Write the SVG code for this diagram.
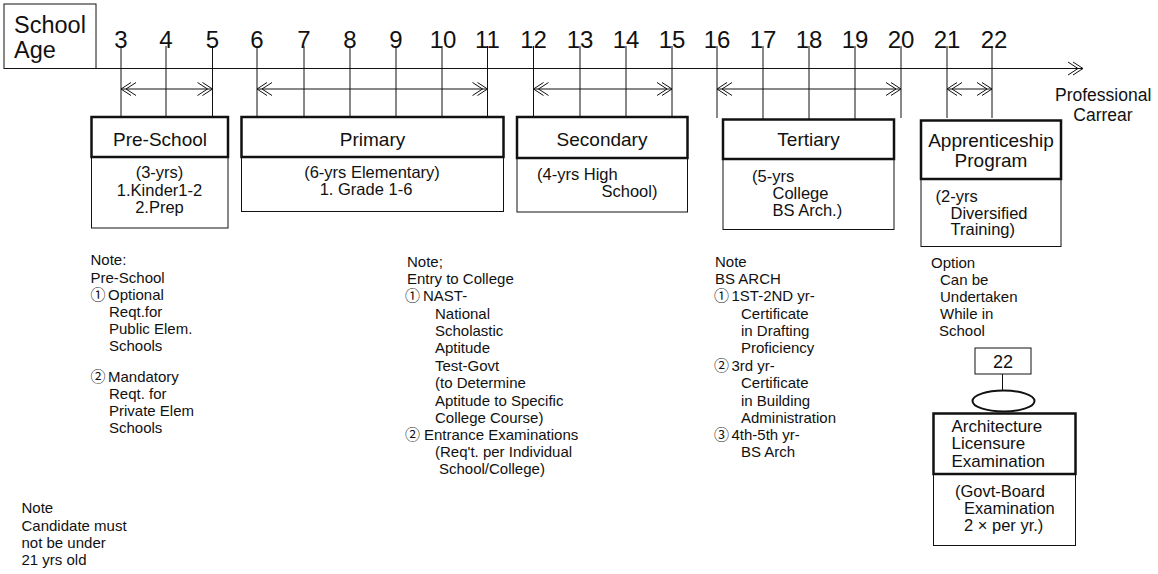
<svg xmlns="http://www.w3.org/2000/svg" width="1158" height="574" viewBox="0 0 1158 574">
<style>
.t{font-family:"Liberation Sans","Noto Sans CJK JP",sans-serif;fill:#111}
.num{font-size:24px;text-anchor:middle}
.hd{font-size:19px;text-anchor:middle}
.bx{font-size:16.5px}
.bxc{font-size:16.5px;text-anchor:middle}
.nt{font-size:15px}
.big{font-size:23.5px}
.thin{fill:none;stroke:#111;stroke-width:1}
.thick{fill:#fff;stroke:#111;stroke-width:2.5}
.ln{stroke:#111;stroke-width:1;fill:none}
.arr{stroke:#111;stroke-width:1;fill:none;marker-start:url(#dbl);marker-end:url(#dbl)}
</style>
<defs>
<marker id="dbl" viewBox="-16 -8 17 16" refX="0" refY="0" markerWidth="17" markerHeight="16" markerUnits="userSpaceOnUse" orient="auto-start-reverse">
<path d="M-10,-6.5 L0,0 L-10,6.5 M-15,-6.5 L-5,0 L-15,6.5" fill="none" stroke="#111" stroke-width="1"/>
</marker>
</defs>
<rect width="1158" height="574" fill="#fff"/>

<g id="connectors">
  <line class="ln" x1="96" y1="68.5" x2="1083" y2="68.5" style="marker-end:url(#dbl)"/>
  <line class="ln" x1="121" y1="46" x2="121" y2="117"/>
  <line class="ln" x1="166" y1="46" x2="166" y2="117"/>
  <line class="ln" x1="212.5" y1="46" x2="212.5" y2="117"/>
  <line class="ln" x1="257" y1="46" x2="257" y2="116"/>
  <line class="ln" x1="304" y1="46" x2="304" y2="117"/>
  <line class="ln" x1="350" y1="46" x2="350" y2="117"/>
  <line class="ln" x1="396" y1="46" x2="396" y2="117"/>
  <line class="ln" x1="442" y1="46" x2="442" y2="117"/>
  <line class="ln" x1="487.5" y1="46" x2="487.5" y2="117"/>
  <line class="ln" x1="533.5" y1="46" x2="533.5" y2="117"/>
  <line class="ln" x1="580" y1="46" x2="580" y2="117"/>
  <line class="ln" x1="626" y1="46" x2="626" y2="117"/>
  <line class="ln" x1="672" y1="46" x2="672" y2="117"/>
  <line class="ln" x1="717" y1="46" x2="717" y2="118"/>
  <line class="ln" x1="763" y1="46" x2="763" y2="119.5"/>
  <line class="ln" x1="809" y1="46" x2="809" y2="119.5"/>
  <line class="ln" x1="855" y1="46" x2="855" y2="119.5"/>
  <line class="ln" x1="901" y1="46" x2="901" y2="118"/>
  <line class="ln" x1="947" y1="46" x2="947" y2="118"/>
  <line class="ln" x1="992" y1="46" x2="992" y2="118"/>
  <line class="arr" x1="121" y1="89" x2="212.5" y2="89"/>
  <line class="arr" x1="257" y1="89" x2="487.5" y2="89"/>
  <line class="arr" x1="533.5" y1="89" x2="672" y2="89"/>
  <line class="arr" x1="717" y1="89" x2="901" y2="89"/>
  <line class="arr" x1="947" y1="89" x2="992" y2="89"/>
  <line class="ln" x1="1002.5" y1="374" x2="1002.5" y2="390"/>
</g>

<g id="school-age">
  <rect class="thin" x="4" y="4" width="92" height="64.5"/>
  <text class="t big" x="14" y="33">School</text>
  <text class="t big" x="14" y="58">Age</text>
</g>

<g id="ages">
  <text class="t num" x="121" y="48">3</text>
  <text class="t num" x="166" y="48">4</text>
  <text class="t num" x="212.5" y="48">5</text>
  <text class="t num" x="257" y="48">6</text>
  <text class="t num" x="304" y="48">7</text>
  <text class="t num" x="350" y="48">8</text>
  <text class="t num" x="396" y="48">9</text>
  <text class="t num" x="443" y="48">10</text>
  <text class="t num" x="487.5" y="48">11</text>
  <text class="t num" x="533.5" y="48">12</text>
  <text class="t num" x="580" y="48">13</text>
  <text class="t num" x="626" y="48">14</text>
  <text class="t num" x="672" y="48">15</text>
  <text class="t num" x="717" y="48">16</text>
  <text class="t num" x="763" y="48">17</text>
  <text class="t num" x="809" y="48">18</text>
  <text class="t num" x="855" y="48">19</text>
  <text class="t num" x="901" y="48">20</text>
  <text class="t num" x="947" y="48">21</text>
  <text class="t num" x="994" y="48">22</text>
</g>

<g id="professional-career">
  <text class="t" x="1055" y="100.5" style="font-size:17.5px">Professional</text>
  <text class="t" x="1103" y="121" style="font-size:17.5px;text-anchor:middle">Carrear</text>
</g>

<g id="pre-school">
  <rect class="thin" x="91.5" y="157" width="136.5" height="71"/>
  <rect class="thick" x="91.5" y="117" width="136.5" height="40"/>
  <text class="t hd" x="160" y="145.5">Pre-School</text>
  <text class="t bxc" x="159.5" y="178">(3-yrs)</text>
  <text class="t bxc" x="159.5" y="195.5">1.Kinder1-2</text>
  <text class="t bxc" x="159.5" y="213">2.Prep</text>
</g>

<g id="primary">
  <rect class="thin" x="241.5" y="157" width="262" height="54.5"/>
  <rect class="thick" x="241.5" y="117" width="262" height="40"/>
  <text class="t hd" x="372.5" y="145.5">Primary</text>
  <text class="t bxc" x="372" y="178">(6-yrs Elementary)</text>
  <text class="t bxc" x="366" y="195">1. Grade 1-6</text>
</g>

<g id="secondary">
  <rect class="thin" x="517" y="158" width="170.5" height="54"/>
  <rect class="thick" x="517" y="117" width="170.5" height="41"/>
  <text class="t hd" x="602" y="145.5">Secondary</text>
  <text class="t bx" x="537" y="180">(4-yrs High</text>
  <text class="t bx" x="601.5" y="197">School)</text>
</g>

<g id="tertiary">
  <rect class="thin" x="723" y="159" width="171" height="70.5"/>
  <rect class="thick" x="723" y="119.5" width="171" height="39.5"/>
  <text class="t hd" x="808.5" y="146">Tertiary</text>
  <text class="t bx" x="752" y="181.5">(5-yrs</text>
  <text class="t bx" x="772.5" y="198.5">College</text>
  <text class="t bx" x="772.5" y="215.5">BS Arch.)</text>
</g>

<g id="apprenticeship">
  <rect class="thin" x="921" y="179" width="140" height="67.5"/>
  <rect class="thick" x="921" y="120.5" width="140" height="58.5"/>
  <text class="t hd" x="991" y="147">Apprenticeship</text>
  <text class="t hd" x="991" y="167">Program</text>
  <text class="t bx" x="935.5" y="201.5">(2-yrs</text>
  <text class="t bx" x="950.5" y="218.5">Diversified</text>
  <text class="t bx" x="950.5" y="235">Training)</text>
</g>

<g id="note-pre-school" class="t nt">
  <text x="90.5" y="265">Note:</text>
  <text x="90.5" y="282.5">Pre-School</text>
  <text y="300"><tspan x="90.5">①</tspan><tspan x="108">Optional</tspan></text>
  <text x="109" y="317">Reqt.for</text>
  <text x="109" y="334">Public Elem.</text>
  <text x="109" y="351">Schools</text>
  <text y="382"><tspan x="90.5">②</tspan><tspan x="108">Mandatory</tspan></text>
  <text x="109" y="399">Reqt. for</text>
  <text x="109" y="416">Private Elem</text>
  <text x="109" y="433">Schools</text>
</g>

<g id="note-college-entry" class="t nt">
  <text x="407" y="266.5">Note;</text>
  <text x="407" y="283.5">Entry to College</text>
  <text y="301"><tspan x="405">①</tspan><tspan x="423">NAST-</tspan></text>
  <text x="435" y="318.5">National</text>
  <text x="435" y="336">Scholastic</text>
  <text x="435" y="353">Aptitude</text>
  <text x="435" y="370.5">Test-Govt</text>
  <text x="435" y="388">(to Determine</text>
  <text x="435" y="405.5">Aptitude to Specific</text>
  <text x="435" y="422.5">College Course)</text>
  <text y="440"><tspan x="405">②</tspan><tspan x="424">Entrance Examinations</tspan></text>
  <text x="435" y="456.5">(Req't. per Individual</text>
  <text x="439" y="473.5">School/College)</text>
</g>

<g id="note-bs-arch" class="t nt">
  <text x="715" y="266.5">Note</text>
  <text x="715" y="283.5">BS ARCH</text>
  <text y="301"><tspan x="714">①</tspan><tspan x="731.5">1ST-2ND yr-</tspan></text>
  <text x="741" y="318.5">Certificate</text>
  <text x="741" y="336">in Drafting</text>
  <text x="741" y="353">Proficiency</text>
  <text y="370.5"><tspan x="714">②</tspan><tspan x="731.5">3rd yr-</tspan></text>
  <text x="741" y="388">Certificate</text>
  <text x="741" y="405.5">in Building</text>
  <text x="741" y="422.5">Administration</text>
  <text y="440"><tspan x="714">③</tspan><tspan x="731.5">4th-5th yr-</tspan></text>
  <text x="741" y="457">BS Arch</text>
</g>

<g id="note-option" class="t nt">
  <text x="931" y="267.5">Option</text>
  <text x="940" y="284.5">Can be</text>
  <text x="940" y="301.5">Undertaken</text>
  <text x="940" y="318.5">While in</text>
  <text x="939" y="335.5">School</text>
</g>

<g id="note-candidate" class="t nt">
  <text x="21.5" y="513">Note</text>
  <text x="21.5" y="530.5">Candidate must</text>
  <text x="21.5" y="548">not be under</text>
  <text x="21.5" y="565">21 yrs old</text>
</g>

<g id="age-22">
  <rect class="thin" x="975" y="348" width="56" height="26"/>
  <text class="t" x="1003" y="368" style="font-size:18px;text-anchor:middle">22</text>
</g>

<g id="ellipse">
  <ellipse cx="1003.5" cy="401" rx="31" ry="10.5" fill="#fff" stroke="#111" stroke-width="2"/>
</g>

<g id="licensure">
  <rect class="thin" x="933.5" y="474" width="142" height="71.5"/>
  <rect class="thick" x="933.5" y="413.5" width="142" height="60.5"/>
  <text class="t bx" x="951.5" y="431.5" style="font-size:17px">Architecture</text>
  <text class="t bx" x="951.5" y="449" style="font-size:17px">Licensure</text>
  <text class="t bx" x="951.5" y="466.5" style="font-size:17px">Examination</text>
  <text class="t bx" x="955" y="496.5">(Govt-Board</text>
  <text class="t bx" x="964" y="514">Examination</text>
  <text class="t bx" x="964" y="531">2 × per yr.)</text>
</g>
</svg>
